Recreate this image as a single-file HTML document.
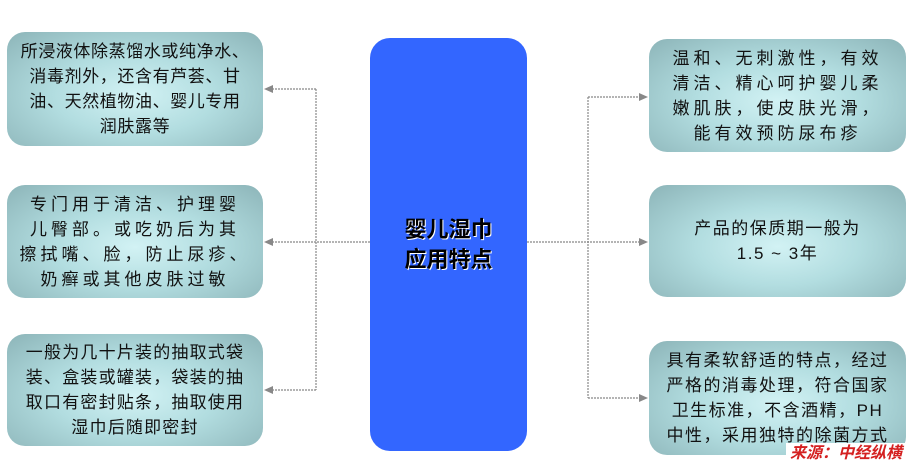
<!DOCTYPE html>
<html><head><meta charset="utf-8"><style>
body{margin:0;width:913px;height:466px;background:#fff;position:relative;overflow:hidden;font-family:"Liberation Sans","Noto Sans CJK SC",sans-serif}
.b{position:absolute;border-radius:18px;background:radial-gradient(ellipse at 50% 55%,#d2f2f4 0%,#b2dde0 45%,#8cb4b8 100%);display:flex;align-items:center;justify-content:center;text-align:center;font-size:17px;line-height:25px;color:#111;box-sizing:border-box;white-space:nowrap}
.c{position:absolute;left:370px;top:38px;width:157px;height:413px;background:#3366ff;border-radius:20px;display:flex;align-items:center;justify-content:center;text-align:center;font-weight:bold;font-size:22px;line-height:30px;color:#000;text-shadow:1px 1px 0 #fff}
.src{position:absolute;left:786px;top:443px;width:127px;height:23px;background:#fff;color:#d42020;font-weight:bold;font-style:italic;font-size:16px;line-height:22px;padding-left:4px;box-sizing:border-box}
</style></head><body>
<svg width="913" height="466" style="position:absolute;left:0;top:0">
<g stroke="#888" stroke-width="1.2" stroke-dasharray="2,1" fill="none">
<path d="M370 242H316M316 89V390M316 89H272M316 242H272M316 390H272"/>
<path d="M527 242H640M588 97V398M588 97H640M588 398H640"/>
</g>
<g fill="#888">
<path d="M264 89l9-4v8z"/><path d="M264 242l9-4v8z"/><path d="M264 390l9-4v8z"/>
<path d="M648 97l-9-4v8z"/><path d="M648 242l-9-4v8z"/><path d="M648 398l-9-4v8z"/>
</g>
</svg>
<div class="b" style="left:7px;top:32px;width:256px;height:114px;letter-spacing:0.6px">所浸液体除蒸馏水或纯净水、<br>消毒剂外，还含有芦荟、甘<br>油、天然植物油、婴儿专用<br>润肤露等</div>
<div class="b" style="left:7px;top:185px;width:256px;height:113px;letter-spacing:4px">专门用于清洁、护理婴<br>儿臀部。或吃奶后为其<br>擦拭嘴、脸，防止尿疹、<br>奶癣或其他皮肤过敏</div>
<div class="b" style="left:7px;top:334px;width:256px;height:112px;letter-spacing:1.2px">一般为几十片装的抽取式袋<br>装、盒装或罐装，袋装的抽<br>取口有密封贴条，抽取使用<br>湿巾后随即密封</div>
<div class="c">婴儿湿巾<br>应用特点</div>
<div class="b" style="left:649px;top:39px;width:257px;height:113px;letter-spacing:4px">温和、无刺激性，有效<br>清洁、精心呵护婴儿柔<br>嫩肌肤，使皮肤光滑，<br>能有效预防尿布疹</div>
<div class="b" style="left:649px;top:185px;width:257px;height:112px;letter-spacing:1.5px">产品的保质期一般为<br>1.5 ~ 3年</div>
<div class="b" style="left:649px;top:341px;width:257px;height:114px;letter-spacing:1.5px">具有柔软舒适的特点，经过<br>严格的消毒处理，符合国家<br>卫生标准，不含酒精，PH<br>中性，采用独特的除菌方式</div>
<div class="src">来源：中经纵横</div>
</body></html>
